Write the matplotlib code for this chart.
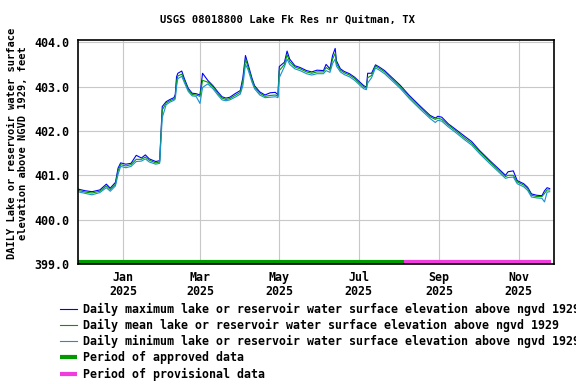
import numpy as np
import matplotlib
matplotlib.use("Agg")
import matplotlib.pyplot as plt
import matplotlib.dates as mdates

dates = [
    "2024-11-27", "2024-12-03", "2024-12-08", "2024-12-14", "2024-12-19", "2024-12-22", "2024-12-26", "2024-12-28", "2024-12-30",
    "2025-01-03", "2025-01-07", "2025-01-11", "2025-01-15", "2025-01-18", "2025-01-21", "2025-01-26", "2025-01-29", "2025-01-31",
    "2025-02-03", "2025-02-06", "2025-02-09", "2025-02-10", "2025-02-11", "2025-02-12", "2025-02-15", "2025-02-17", "2025-02-20", "2025-02-23", "2025-02-26",
    "2025-03-01", "2025-03-03", "2025-03-07", "2025-03-11", "2025-03-15", "2025-03-18", "2025-03-21", "2025-03-24", "2025-03-28",
    "2025-04-01", "2025-04-03", "2025-04-05", "2025-04-07", "2025-04-10", "2025-04-12", "2025-04-16", "2025-04-20", "2025-04-24", "2025-04-28", "2025-04-30",
    "2025-05-01", "2025-05-05", "2025-05-07", "2025-05-09", "2025-05-13", "2025-05-17", "2025-05-22", "2025-05-26", "2025-05-30",
    "2025-06-04", "2025-06-06", "2025-06-09", "2025-06-11", "2025-06-13", "2025-06-14", "2025-06-17", "2025-06-20", "2025-06-24", "2025-06-28",
    "2025-07-02", "2025-07-05", "2025-07-07", "2025-07-08", "2025-07-11", "2025-07-14", "2025-07-17", "2025-07-21", "2025-07-25", "2025-07-29",
    "2025-08-02", "2025-08-09", "2025-08-17", "2025-08-25", "2025-08-29", "2025-08-31",
    "2025-09-03", "2025-09-08", "2025-09-13", "2025-09-21", "2025-09-26",
    "2025-10-02", "2025-10-10", "2025-10-18", "2025-10-22", "2025-10-24", "2025-10-28", "2025-10-31",
    "2025-11-05", "2025-11-08", "2025-11-11", "2025-11-15", "2025-11-19", "2025-11-21", "2025-11-23", "2025-11-25",
]

elev_max = [
    400.69, 400.65, 400.63, 400.67, 400.80, 400.71, 400.84, 401.16, 401.28,
    401.25, 401.27, 401.45, 401.39, 401.46, 401.37, 401.31, 401.33, 402.55,
    402.66, 402.71, 402.75, 402.82, 403.22, 403.30, 403.35, 403.18, 402.96, 402.85, 402.84,
    402.81, 403.30, 403.14, 403.02, 402.87, 402.77, 402.74, 402.76, 402.84,
    402.91, 403.20, 403.70, 403.50, 403.19, 403.02, 402.88, 402.81, 402.86, 402.87, 402.81,
    403.45, 403.55, 403.80, 403.62, 403.47, 403.43, 403.36, 403.33, 403.37,
    403.36, 403.50, 403.40, 403.70, 403.86, 403.58, 403.40, 403.34, 403.29, 403.21,
    403.10, 403.02, 402.99, 403.30, 403.30, 403.49, 403.44, 403.36, 403.25, 403.14,
    403.03, 402.80, 402.57, 402.35, 402.29, 402.33,
    402.31, 402.16, 402.05, 401.87, 401.76,
    401.56, 401.33, 401.11, 401.00, 401.08, 401.10, 400.88,
    400.81, 400.73, 400.58, 400.55, 400.54, 400.65, 400.72, 400.70,
]

elev_mean = [
    400.66, 400.62, 400.60, 400.64, 400.76, 400.68, 400.80, 401.10, 401.24,
    401.21, 401.24, 401.36, 401.36, 401.41, 401.34, 401.28, 401.30, 402.47,
    402.63, 402.68, 402.72, 402.77, 403.12, 403.24, 403.28, 403.14, 402.93, 402.82, 402.81,
    402.78, 403.14, 403.10, 402.99, 402.84, 402.74, 402.71, 402.73, 402.80,
    402.87, 403.12, 403.62, 403.44, 403.15, 402.99, 402.85, 402.78, 402.80, 402.81, 402.78,
    403.36, 403.50, 403.72, 403.56, 403.44, 403.40, 403.33, 403.30, 403.33,
    403.33, 403.43, 403.37, 403.62, 403.75, 403.52, 403.37, 403.31, 403.26, 403.18,
    403.07, 402.99, 402.96, 403.20, 403.25, 403.46, 403.41, 403.33, 403.22, 403.11,
    403.00, 402.77, 402.54, 402.32, 402.26, 402.29,
    402.26, 402.13, 402.02, 401.83, 401.72,
    401.53, 401.30, 401.08, 400.97, 401.00, 401.00, 400.85,
    400.78, 400.70, 400.55, 400.52, 400.52, 400.59, 400.67, 400.67,
]

elev_min = [
    400.63, 400.59, 400.56, 400.61, 400.72, 400.64, 400.76, 401.02, 401.20,
    401.17, 401.20, 401.31, 401.32, 401.37, 401.30, 401.25, 401.27, 402.30,
    402.59, 402.65, 402.69, 402.72, 403.00, 403.18, 403.23, 403.09, 402.89, 402.79, 402.78,
    402.62, 402.98, 403.06, 402.95, 402.80, 402.70, 402.68, 402.70, 402.76,
    402.83, 403.02, 403.50, 403.38, 403.10, 402.95, 402.81, 402.75, 402.76, 402.77, 402.75,
    403.20, 403.45, 403.62, 403.50, 403.40, 403.36, 403.29, 403.26, 403.29,
    403.29, 403.36, 403.32, 403.52, 403.62, 403.46, 403.33, 403.27, 403.22, 403.14,
    403.03, 402.95, 402.93, 403.08, 403.20, 403.42, 403.37, 403.29, 403.18, 403.07,
    402.96, 402.73, 402.50, 402.28, 402.19, 402.24,
    402.22, 402.09, 401.98, 401.79, 401.68,
    401.49, 401.26, 401.04, 400.93, 400.95, 400.96, 400.81,
    400.74, 400.66, 400.51, 400.49, 400.48, 400.40, 400.62, 400.63,
]

approved_period = ["2024-11-27", "2025-08-05"]
provisional_period = ["2025-08-05", "2025-11-26"]

tick_dates = ["2025-01-01", "2025-03-01", "2025-05-01", "2025-07-01", "2025-09-01", "2025-11-01"]
tick_labels = ["Jan\n2025", "Mar\n2025", "May\n2025", "Jul\n2025", "Sep\n2025", "Nov\n2025"]
y_ticks = [399.0, 400.0, 401.0, 402.0, 403.0, 404.0]

labels = [
    "Daily maximum lake or reservoir water surface elevation above ngvd 1929",
    "Daily mean lake or reservoir water surface elevation above ngvd 1929",
    "Daily minimum lake or reservoir water surface elevation above ngvd 1929",
    "Period of approved data",
    "Period of provisional data",
]

plt.rcParams["font.family"] = "DejaVu Sans Mono"
plt.rcParams["font.weight"] = "bold"
fs = 8.4

x = np.array(dates, dtype="datetime64[D]")

fig = plt.figure(figsize=(5.76, 3.84), dpi=100)
ax = fig.add_axes([78 / 576, 1 - 264 / 384, 476 / 576, 224 / 384])

l1, = ax.plot(x, elev_max, color="#0000FF", lw=0.8)
l2, = ax.plot(x, elev_mean, color="#009900", lw=0.8)
l3, = ax.plot(x, elev_min, color="#1A8FD6", lw=0.8)

pa = np.array(approved_period, dtype="datetime64[D]")
pp = np.array(provisional_period, dtype="datetime64[D]")
l4, = ax.plot(pa, [399.05, 399.05], color="#009900", lw=3, solid_capstyle="butt", clip_on=False)
l5, = ax.plot(pp, [399.05, 399.05], color="#F03CDC", lw=3, solid_capstyle="butt", clip_on=False)

x0 = mdates.date2num(np.datetime64("2025-01-01"))
ax.set_xlim(x0 - 34.8, x0 + 331.3)
ax.set_ylim(399.0, 404.05)

ax.set_xticks(np.array(tick_dates, dtype="datetime64[D]"))
ax.set_xticklabels(tick_labels, fontsize=fs, linespacing=1.1)
ax.set_yticks(y_ticks)
ax.set_yticklabels([f"{v:.1f}" for v in y_ticks], fontsize=fs)
ax.tick_params(length=0, pad=6)
ax.tick_params(axis="x", pad=5)
ax.grid(True, color="#C8C8C8", lw=0.8)
ax.set_axisbelow(True)
for s in ax.spines.values():
    s.set_linewidth(1.2)

fig.text(0.5, 1 - 20 / 384, "USGS 08018800 Lake Fk Res nr Quitman, TX",
         ha="center", va="center", fontsize=7.6)
fig.text(17.5 / 576, 1 - 143 / 384,
         "DAILY Lake or reservoir water surface\nelevation above NGVD 1929, feet",
         rotation=90, ha="center", va="center", fontsize=7.5, linespacing=1.2)

fig.legend([l1, l2, l3, l4, l5], labels, loc="upper left",
           bbox_to_anchor=(60 / 576, 1 - 303 / 384), frameon=False,
           fontsize=fs, handlelength=1.45, handletextpad=0.5,
           labelspacing=0.26, borderpad=0, borderaxespad=0)

fig.savefig("out.png", dpi=100)
